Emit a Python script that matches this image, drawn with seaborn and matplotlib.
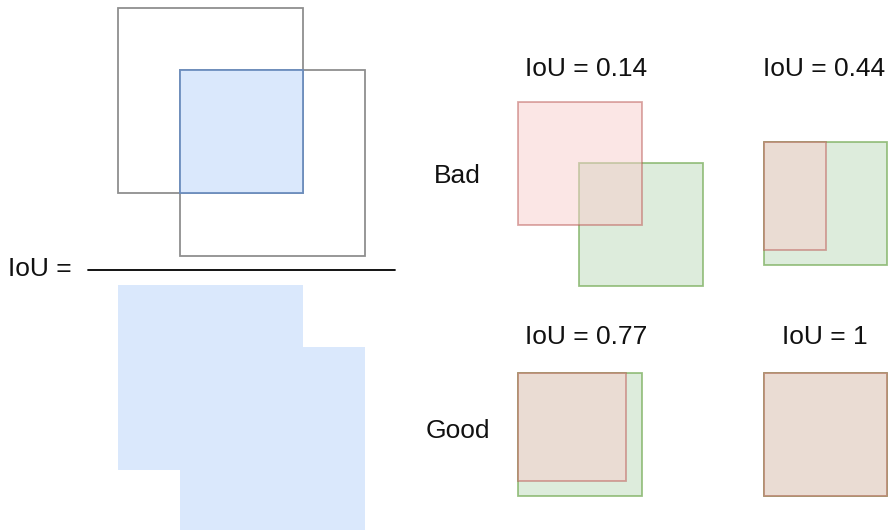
import matplotlib
matplotlib.use("Agg")
import matplotlib.pyplot as plt
from matplotlib.patches import Rectangle, Polygon
import seaborn as sns

sns.set_theme(style="white")
plt.rcParams['font.family'] = ['Liberation Sans', 'DejaVu Sans']

# Boxes: (x, y, w, h) in diagram units (y grows downward)
box_a = (118, 8, 185, 185)
box_b = (180, 70, 185, 186)
inter = (180, 70, 123, 123)
union_poly = [(118, 285), (303, 285), (303, 347), (365, 347), (365, 533),
              (180, 533), (180, 470), (118, 470)]

examples = [
    # (label, title position, ground truth box, prediction box)
    ("IoU = 0.14", (586.5, 76), (579, 163, 124, 123), (518, 102, 124, 123)),
    ("IoU = 0.44", (824.5, 76), (764, 142, 123, 123), (764, 142, 62, 108)),
    ("IoU = 0.77", (586, 344), (518, 373, 124, 123), (518, 373, 108, 108)),
    ("IoU = 1", (825, 344), (764, 373, 123, 123), (764, 373, 123, 123)),
]
row_labels = [("Bad", (457, 183)), ("Good", (457.5, 438))]

fig = plt.figure(figsize=(8.91, 5.30), dpi=100)
ax = fig.add_axes([0, 0, 1, 1])
ax.set_xlim(0, 891)
ax.set_ylim(530, 0)
ax.axis("off")

FS = 19
gray = (0.45, 0.45, 0.45, 0.8)
ax.add_patch(Rectangle(box_a[:2], box_a[2], box_a[3], fill=False, ec=gray, lw=1.3))
ax.add_patch(Rectangle(box_b[:2], box_b[2], box_b[3], fill=False, ec=gray, lw=1.3))
ax.add_patch(Rectangle(inter[:2], inter[2], inter[3], fc="#dae8fc", ec="#6c8ebf", lw=1.3))

ax.plot([88, 395], [270, 270], color="black", lw=1.3)
ax.add_patch(Polygon(union_poly, closed=True, fc="#dae8fc", ec="none"))
ax.text(8, 276.5, "IoU =", fontsize=FS, ha="left", va="baseline", color="#111111")

for label, (tx, ty), gt, pr in examples:
    ax.add_patch(Rectangle(gt[:2], gt[2], gt[3], fc="#d5e8d4", ec="#82b366",
                           lw=1.3, alpha=0.8))
    ax.add_patch(Rectangle(pr[:2], pr[2], pr[3], fc="#f8cecc", ec="#b85450",
                           lw=1.3, alpha=0.5))
    ax.text(tx, ty, label, fontsize=FS, ha="center", va="baseline", color="#111111")

for lab, (tx, ty) in row_labels:
    ax.text(tx, ty, lab, fontsize=FS, ha="center", va="baseline", color="#111111")

fig.savefig("out.png", dpi=100)
